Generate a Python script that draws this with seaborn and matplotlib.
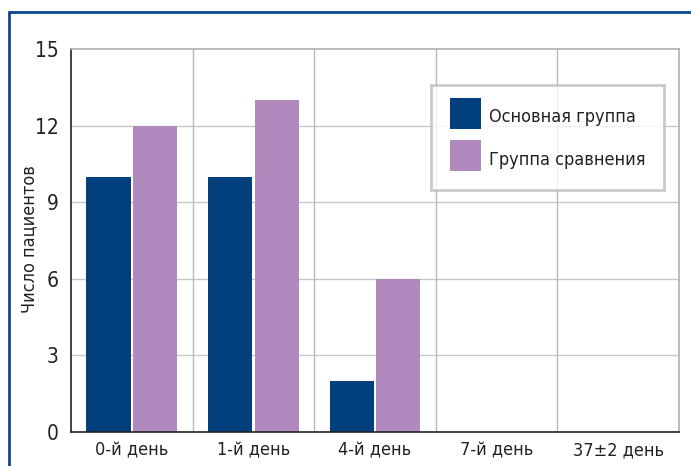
import matplotlib
matplotlib.use("Agg")
import matplotlib.pyplot as plt
import seaborn as sns
import pandas as pd
import numpy as np
from matplotlib.patches import Patch, Rectangle
from matplotlib.legend_handler import HandlerPatch
from matplotlib import font_manager as fm

# Data
days = ["0-й день", "1-й день", "4-й день", "7-й день", "37±2 день"]
main_group = [10, 10, 2, 0, 0]
comparison_group = [12, 13, 6, 0, 0]
series_names = ["Основная группа", "Группа сравнения"]
y_ticks = [0, 3, 6, 9, 12, 15]

colors = ["#013F7D", "#B089BE"]
text_color = "#222222"

sns.set_theme(style="white")

# Prefer a condensed face when one is installed
condensed = [f for f in fm.fontManager.ttflist
             if f.name == "DejaVu Sans" and "Condensed" in f.fname
             and "Bold" not in f.fname and "Oblique" not in f.fname]
if condensed:
    plt.rcParams["font.family"] = ["DejaVu Sans"]
    plt.rcParams["font.stretch"] = "condensed"
    fs_tick, fs_text = 15, 13
else:
    plt.rcParams["font.family"] = ["Liberation Sans", "DejaVu Sans"]
    fs_tick, fs_text = 15, 12.5

df = pd.DataFrame({
    "day": days * 2,
    "value": main_group + comparison_group,
    "group": [series_names[0]] * len(days) + [series_names[1]] * len(days),
})

fig = plt.figure(figsize=(6.91, 4.66), dpi=100)
ax = fig.add_axes([71 / 691, 34 / 466, 608 / 691, 383 / 466])

sns.barplot(data=df, x="day", y="value", hue="group", order=days,
            hue_order=series_names, palette=colors, width=0.765, gap=0.05,
            saturation=1, ax=ax, legend=False, linewidth=0)

ax.set_xlim(-0.5, len(days) - 0.5)
ax.set_ylim(0, 15)
ax.set_yticks(y_ticks)
ax.set_yticklabels([str(t) for t in y_ticks], fontsize=fs_tick, color=text_color)
ax.set_xticks(range(len(days)))
ax.set_xticklabels(days, fontsize=fs_text, color=text_color)
ax.tick_params(axis="x", which="major", length=0, pad=7)
ax.set_xticks(np.arange(-0.5, len(days), 1.0), minor=True)
ax.tick_params(axis="x", which="minor", direction="in", length=5, width=1, color="#222222")
ax.tick_params(axis="y", which="major", direction="in", length=7, width=1, color="#222222", pad=9)

ax.set_xlabel("")
ax.set_ylabel("")
fig.text(29 / 691, 1 - 239 / 466, "Число пациентов", rotation=90,
         ha="center", va="center", fontsize=fs_text, color=text_color)

# Grid
for y in y_ticks[1:-1]:
    ax.axhline(y, color="#C8C8C8", linewidth=1, zorder=0)
for x in np.arange(0.5, len(days) - 1, 1.0):
    ax.axvline(x, color="#B8B8B8", linewidth=1, zorder=0)

for side in ["left", "bottom"]:
    ax.spines[side].set_color("#222222")
    ax.spines[side].set_linewidth(1.2)
for side in ["top", "right"]:
    ax.spines[side].set_color("#B0B0B0")
    ax.spines[side].set_linewidth(1.2)


# Legend: square swatches filling the whole handle box
def full_box(legend, orig_handle, xdescent, ydescent, width, height, fontsize):
    return Rectangle((-xdescent, -ydescent), width, height + ydescent)


handles = [Patch(facecolor=c, edgecolor="none") for c in colors]
leg = ax.legend(handles, series_names, loc="upper right",
                bbox_to_anchor=(593 / 608, (432 - 85) / 383),
                fontsize=fs_text, frameon=True, fancybox=False,
                handler_map={Patch: HandlerPatch(patch_func=full_box)},
                handlelength=1.72, handleheight=1.72, handletextpad=0.4,
                labelspacing=1.0, borderpad=1.05, borderaxespad=0)
leg.get_frame().set_edgecolor("#BDBDBD")
leg.get_frame().set_linewidth(2)
for t in leg.get_texts():
    t.set_color(text_color)

# Outer frame
fig.add_artist(plt.Line2D([8.5 / 691, 8.5 / 691], [0, 1 - 11.5 / 466],
                          transform=fig.transFigure, color="#0B4A8A", linewidth=2))
fig.add_artist(plt.Line2D([8.5 / 691, 1], [1 - 11.5 / 466, 1 - 11.5 / 466],
                          transform=fig.transFigure, color="#0B4A8A", linewidth=2))

fig.savefig("out.png", dpi=100)
